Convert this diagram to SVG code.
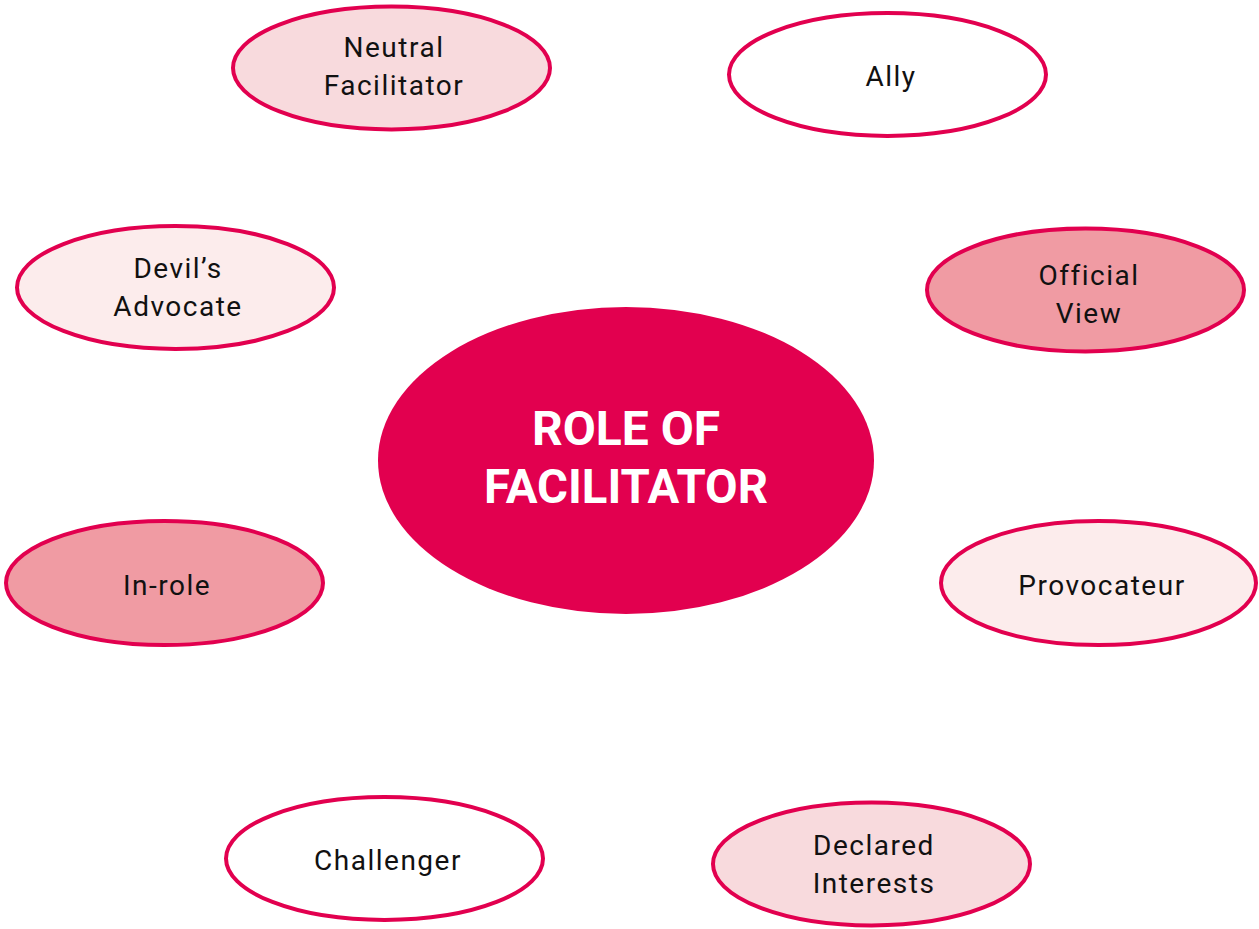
<svg xmlns="http://www.w3.org/2000/svg" width="1259" height="929" viewBox="0 0 1259 929">
<style>
.n{stroke:#E2004F;stroke-width:4}
.w{fill:#FFFFFF}.l{fill:#F8DADD}.p{fill:#FCECEC}.m{fill:#F09BA3}
.t{font-family:Roboto,"Liberation Sans",sans-serif;font-size:28px;letter-spacing:1.5px;fill:#111111;text-anchor:middle}
.c{font-family:Roboto,"Liberation Sans",sans-serif;font-size:48px;font-weight:bold;fill:#FFFFFF;text-anchor:middle}
</style>
<rect width="1259" height="929" fill="#FFFFFF"/>
<g id="connectors"/>
<g id="center">
<ellipse cx="626" cy="460.5" rx="248" ry="153.5" fill="#E2004F"/>
<text class="c" x="626" y="445">ROLE OF</text>
<text class="c" x="626" y="503" textLength="284" lengthAdjust="spacingAndGlyphs">FACILITATOR</text>
</g>
<g id="neutral-facilitator">
<ellipse class="n l" cx="391.5" cy="68" rx="158.5" ry="61.5"/>
<text class="t" x="394" y="57">Neutral</text>
<text class="t" x="394" y="95">Facilitator</text>
</g>
<g id="ally">
<ellipse class="n w" cx="887.5" cy="74.5" rx="158.5" ry="61.5"/>
<text class="t" x="891" y="86">Ally</text>
</g>
<g id="devils-advocate">
<ellipse class="n p" cx="175.5" cy="287.5" rx="158.5" ry="61.5"/>
<text class="t" x="178" y="278">Devil’s</text>
<text class="t" x="178" y="316">Advocate</text>
</g>
<g id="official-view">
<ellipse class="n m" cx="1085.5" cy="290" rx="158.5" ry="61.5"/>
<text class="t" x="1089" y="285">Official</text>
<text class="t" x="1089" y="323">View</text>
</g>
<g id="in-role">
<ellipse class="n m" cx="164.5" cy="583" rx="158.5" ry="62"/>
<text class="t" x="167" y="595">In-role</text>
</g>
<g id="provocateur">
<ellipse class="n p" cx="1098.5" cy="583" rx="157.5" ry="62"/>
<text class="t" x="1102" y="595">Provocateur</text>
</g>
<g id="challenger">
<ellipse class="n w" cx="384.5" cy="858.5" rx="158.5" ry="61.5"/>
<text class="t" x="388" y="870">Challenger</text>
</g>
<g id="declared-interests">
<ellipse class="n l" cx="871.5" cy="864" rx="158.5" ry="61.5"/>
<text class="t" x="874" y="855">Declared</text>
<text class="t" x="874" y="893">Interests</text>
</g>
</svg>
